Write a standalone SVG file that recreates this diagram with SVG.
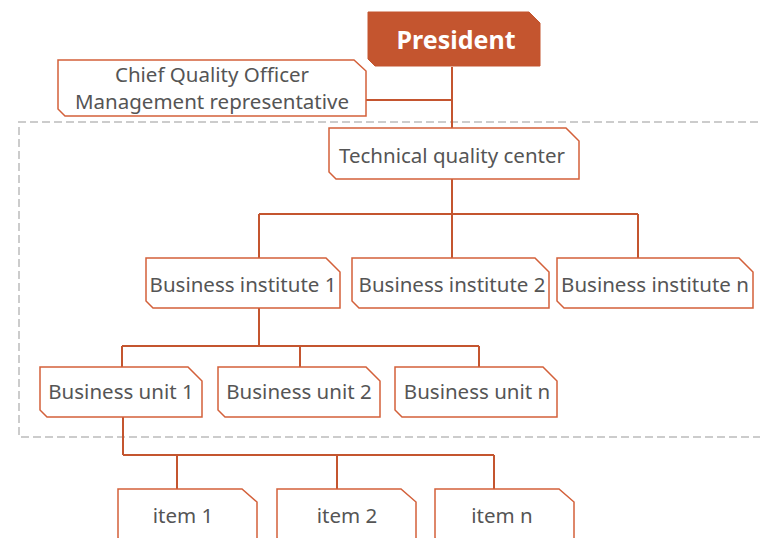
<svg xmlns="http://www.w3.org/2000/svg" width="760" height="538" viewBox="0 0 760 538">
  <style>
    .box { fill: #ffffff; stroke: #d3603a; stroke-width: 1.5; }
    .lbl { font-family: "Noto Sans", "DejaVu Sans", sans-serif; font-size: 20.5px; fill: #555555; text-anchor: middle; dominant-baseline: central; }
    .head { fill: #c4552f; stroke: #c4552f; }
    .headlbl { font-family: "Noto Sans", "DejaVu Sans", sans-serif; font-size: 25px; font-weight: bold; fill: #ffffff; text-anchor: middle; dominant-baseline: central; }
    .link { fill: none; stroke: #c4552f; stroke-width: 2; }
    .frame { fill: none; stroke: #cccccc; stroke-width: 2; stroke-dasharray: 8 4; }
  </style>

  <!-- dashed grouping frame -->
  <path class="frame" d="M770 122 H19 V437 H770"/>

  <!-- connectors -->
  <g id="connectors">
    <path class="link" d="M452 67 V128"/>
    <path class="link" d="M366 100 H452"/>
    <path class="link" d="M452 179 V214 M259 214 H638 M259 214 V258 M452 214 V258 M638 214 V258"/>
    <path class="link" d="M259 308 V346 M122 346 H479 M122 346 V367 M300 346 V367 M479 346 V367"/>
    <path class="link" d="M123 417 V455 M123 455 H494 M177 455 V489 M337 455 V489 M494 455 V489"/>
  </g>

  <g id="president">
    <polygon class="head" points="368,12 529,12 540,23 540,66 375,66 368,59"/>
    <text class="headlbl" x="456" y="39">President</text>
  </g>

  <g id="cqo">
    <polygon class="box" points="58,60 354,60 366,71 366,116 65,116 58,109"/>
    <text class="lbl" x="212" y="74">Chief Quality Officer</text>
    <text class="lbl" x="212" y="101">Management representative</text>
  </g>

  <g id="tech-center">
    <polygon class="box" points="329,128 566,128 579,141 579,179 336,179 329,172"/>
    <text class="lbl" x="452" y="155">Technical quality center</text>
  </g>

  <g id="institute-1">
    <polygon class="box" points="146,258 326,258 340,272 340,308 153,308 146,301"/>
    <text class="lbl" x="243" y="284">Business institute 1</text>
  </g>
  <g id="institute-2">
    <polygon class="box" points="352,258 535,258 549,272 549,308 359,308 352,301"/>
    <text class="lbl" x="452" y="284">Business institute 2</text>
  </g>
  <g id="institute-n">
    <polygon class="box" points="557,258 739,258 753,272 753,308 564,308 557,301"/>
    <text class="lbl" x="655" y="284">Business institute n</text>
  </g>

  <g id="unit-1">
    <polygon class="box" points="40,367 188,367 202,381 202,417 47,417 40,410"/>
    <text class="lbl" x="121" y="391">Business unit 1</text>
  </g>
  <g id="unit-2">
    <polygon class="box" points="218,367 366,367 380,381 380,417 225,417 218,410"/>
    <text class="lbl" x="299" y="391">Business unit 2</text>
  </g>
  <g id="unit-n">
    <polygon class="box" points="395,367 543,367 557,381 557,417 402,417 395,410"/>
    <text class="lbl" x="477" y="391">Business unit n</text>
  </g>

  <g id="item-1">
    <polygon class="box" points="118,489 242,489 257,502 257,545 125,545 118,538"/>
    <text class="lbl" x="183" y="515">item 1</text>
  </g>
  <g id="item-2">
    <polygon class="box" points="277,489 401,489 416,502 416,545 284,545 277,538"/>
    <text class="lbl" x="347" y="515">item 2</text>
  </g>
  <g id="item-n">
    <polygon class="box" points="435,489 559,489 574,502 574,545 442,545 435,538"/>
    <text class="lbl" x="502" y="515">item n</text>
  </g>
</svg>
